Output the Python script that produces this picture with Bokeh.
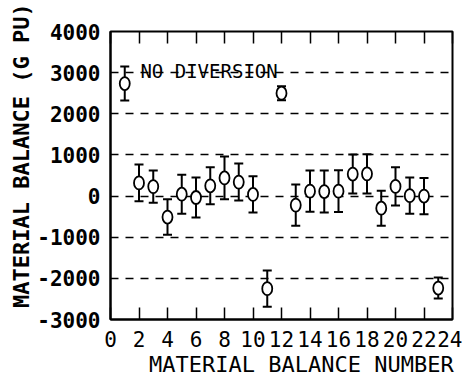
import math
from bokeh.plotting import figure
from bokeh.models import (ColumnDataSource, Whisker, TeeHead, Label, FixedTicker,
                          LinearAxis, Range1d)
from bokeh.embed import file_html
from bokeh.resources import INLINE

# ---- data ----
mb_number = list(range(1, 24))
balance = [2735, 320, 230, -510, 45, -35, 250, 440, 340, 40, -2250, 2500,
           -220, 120, 110, 120, 535, 540, -295, 235, 10, 0, -2235]
err = [415, 445, 390, 430, 475, 485, 450, 520, 450, 440, 440, 170,
       500, 500, 510, 510, 475, 475, 425, 465, 440, 440, 255]
x_ticks = list(range(0, 25, 2))
y_ticks = list(range(-3000, 4001, 1000))
grid_levels = [-2000, -1000, 0, 1000, 2000, 3000]
annotation_text = "NO DIVERSION"
x_title = "MATERIAL BALANCE NUMBER"
y_title = "MATERIAL BALANCE (G PU)"

src = ColumnDataSource(dict(
    x=mb_number, y=balance,
    upper=[b + e for b, e in zip(balance, err)],
    lower=[b - e for b, e in zip(balance, err)],
))

FONT = "DejaVu Sans Mono"
NB = "\u00a0"

p = figure(width=462, height=382, output_backend="svg", toolbar_location=None,
           x_range=Range1d(0, 24), y_range=Range1d(-3000, 4000),
           min_border_left=110, min_border_right=10, min_border_top=31,
           min_border_bottom=63)
p.background_fill_color = "white"
p.border_fill_color = "white"
p.outline_line_color = "black"
p.outline_line_width = 2

# bottom axis
xa = p.xaxis[0]
xa.ticker = FixedTicker(ticks=x_ticks)
xa.major_label_overrides = {t: str(t) for t in x_ticks}
xa.major_tick_in = 12
xa.major_tick_out = 0
xa.major_tick_line_width = 1.5
xa.minor_tick_line_color = None
xa.axis_line_width = 2
xa.major_label_standoff = 11
xa.major_label_text_font = FONT
xa.major_label_text_font_size = "21px"
xa.major_label_text_color = "black"
xa.axis_label = NB * 3 + x_title
xa.axis_label_text_font = FONT
xa.axis_label_text_font_size = "22px"
xa.axis_label_text_font_style = "normal"
xa.axis_label_text_color = "black"
xa.axis_label_standoff = 2

# left axis
ya = p.yaxis[0]
ya.ticker = FixedTicker(ticks=y_ticks)
ya.major_label_overrides = {t: str(t) for t in y_ticks}
ya.major_tick_in = 0
ya.major_tick_out = 0
ya.minor_tick_line_color = None
ya.axis_line_width = 2
ya.major_label_standoff = 10
ya.major_label_text_font = FONT
ya.major_label_text_font_style = "bold"
ya.major_label_text_font_size = "21px"
ya.major_label_text_color = "black"
ya.axis_label = NB * 3 + y_title
ya.axis_label_text_font = FONT
ya.axis_label_text_font_size = "22px"
ya.axis_label_text_font_style = "bold"
ya.axis_label_text_color = "black"
ya.axis_label_standoff = 0

# top axis: ticks only
top = LinearAxis(ticker=FixedTicker(ticks=x_ticks),
                 major_label_overrides={t: "" for t in x_ticks},
                 axis_line_color=None, major_tick_in=12, major_tick_out=0,
                 major_tick_line_width=1.5, minor_tick_line_color=None)
p.add_layout(top, "above")

# dashed horizontal reference lines
p.xgrid.visible = False
p.ygrid.ticker = FixedTicker(ticks=grid_levels)
p.ygrid.grid_line_color = "black"
p.ygrid.grid_line_dash = "8 7"
p.ygrid.grid_line_width = 1.5

# error bars
p.add_layout(Whisker(source=src, base="x", upper="upper", lower="lower",
                     dimension="height", line_color="black", line_width=2,
                     upper_head=TeeHead(size=9, line_color="black", line_width=2),
                     lower_head=TeeHead(size=9, line_color="black", line_width=2)))

# hollow markers
p.ellipse(x="x", y="y", width=10, height=13, width_units="screen",
          height_units="screen", source=src, fill_color="white",
          line_color="black", line_width=1.8)

p.add_layout(Label(x=2.1, y=3050, text=annotation_text, text_font=FONT,
                   text_font_size="19px", text_color="black",
                   text_baseline="alphabetic", text_align="left"))

open("out.html", "w").write(file_html(p, INLINE))
